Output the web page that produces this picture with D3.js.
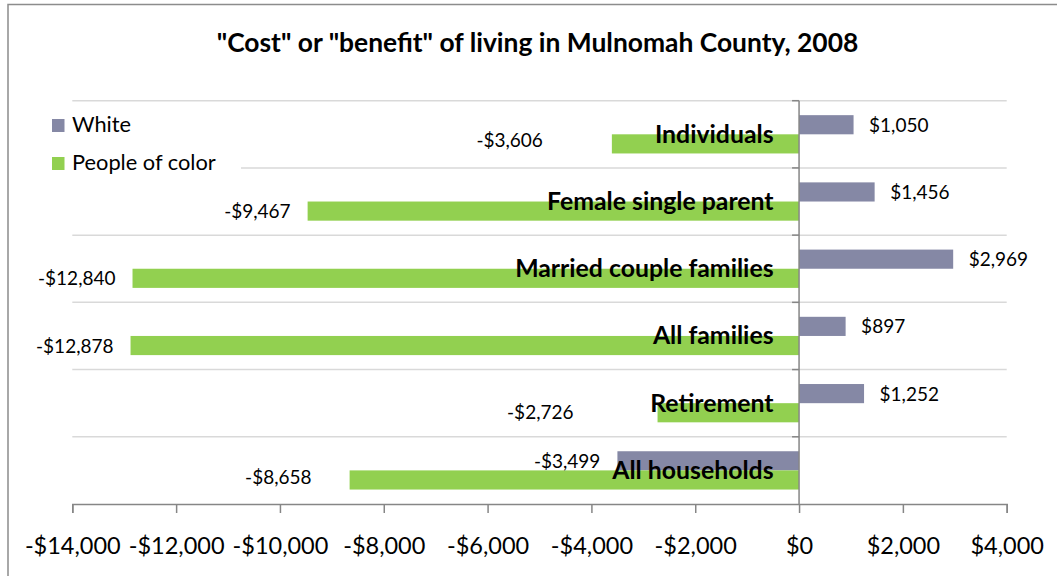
<!DOCTYPE html>
<html>
<head>
<meta charset="utf-8">
<script src="https://cdn.jsdelivr.net/npm/d3@7/dist/d3.min.js"></script>
<style>
  html, body { margin: 0; padding: 0; background: #fff; }
  svg { display: block; font-family: Lato, "Open Sans", sans-serif; }
</style>
</head>
<body>
<svg id="chart" width="1057" height="576"></svg>
<script>
// ---- data ----
const title = '"Cost" or "benefit" of living in Mulnomah County, 2008';
const categories = ["Individuals", "Female single parent", "Married couple families", "All families", "Retirement", "All households"];
const seriesNames = ["White", "People of color"];
const whiteValues = [1050, 1456, 2969, 897, 1252, -3499];
const pocValues = [-3606, -9467, -12840, -12878, -2726, -8658];
const xTicks = [-14000, -12000, -10000, -8000, -6000, -4000, -2000, 0, 2000, 4000];

// ---- styles ----
const colors = { "White": "#8588A5", "People of color": "#92D050" };
const gridColor = "#D9D9D9";
const axisColor = "#868686";

const svg = d3.select("#chart");
svg.append("rect").attr("width", 1057).attr("height", 576).attr("fill", "#fff");
// chart border
svg.append("rect").attr("x", 8).attr("y", 4.5).attr("width", 1060).attr("height", 580)
  .attr("fill", "none").attr("stroke", "#8C8C8C").attr("stroke-width", 1.5);

// title
svg.append("text").attr("x", 537.5).attr("y", 52).attr("text-anchor", "middle")
  .attr("font-weight", "bold").attr("font-size", 26.4).attr("fill", "#000").text(title);

const plot = { left: 72.3, right: 1006.7, top: 100.7, bottom: 504 };
const x = d3.scaleLinear().domain([-14000, 4000]).range([plot.left, plot.right]);
const y = d3.scaleBand().domain(categories).range([plot.top, plot.bottom]).paddingInner(0).paddingOuter(0);
const groupH = y.bandwidth() / 1.755;
const ySub = d3.scaleBand().domain(seriesNames).range([0, groupH]);
const groupOff = (y.bandwidth() - groupH) / 2;

// gridlines at band boundaries
const bounds = categories.map(c => y(c));
svg.append("g").selectAll("line").data(bounds).join("line")
  .attr("x1", plot.left).attr("x2", plot.right)
  .attr("y1", d => d).attr("y2", d => d)
  .attr("stroke", gridColor).attr("stroke-width", 1.5);

// bars
const rows = categories.map((c, i) => ({ cat: c, values: [
  { s: "White", v: whiteValues[i] }, { s: "People of color", v: pocValues[i] } ] }));
const barG = svg.append("g");
rows.forEach(r => {
  r.values.forEach(d => {
    barG.append("rect")
      .attr("x", x(Math.min(0, d.v)))
      .attr("width", Math.abs(x(d.v) - x(0)))
      .attr("y", y(r.cat) + groupOff + ySub(d.s))
      .attr("height", ySub.bandwidth())
      .attr("fill", colors[d.s]);
  });
});

// x axis
const xAxis = d3.axisBottom(x).tickValues(xTicks).tickSize(9).tickPadding(0)
  .tickFormat(d => (d < 0 ? "-$" : "$") + d3.format(",")(Math.abs(d)));
const gx = svg.append("g").attr("transform", `translate(0,${plot.bottom})`).call(xAxis);
gx.select(".domain").attr("stroke", axisColor).attr("stroke-width", 1.5);
gx.selectAll(".tick line").attr("stroke", axisColor).attr("stroke-width", 1.5);
gx.selectAll(".tick text").attr("font-size", 23.5).attr("fill", "#000")
  .attr("font-family", "Lato, sans-serif").attr("dy", 0).attr("y", 50).attr("dominant-baseline", "auto");

// vertical axis at zero
const gy = svg.append("g");
gy.append("line").attr("x1", x(0)).attr("x2", x(0)).attr("y1", plot.top).attr("y2", plot.bottom)
  .attr("stroke", axisColor).attr("stroke-width", 1.5);
gy.selectAll(".ytick").data(bounds).join("line").attr("class", "ytick")
  .attr("x1", x(0) - 7).attr("x2", x(0)).attr("y1", d => d).attr("y2", d => d)
  .attr("stroke", axisColor).attr("stroke-width", 1.5);

// data labels
const fmt = v => (v < 0 ? "-$" : "$") + d3.format(",")(Math.abs(v));
// manual label nudges (dx, dy) as in the original
const nudge = {
  "Individuals|People of color": [-52, -4],
  "Retirement|People of color": [-67, -1],
  "All households|People of color": [-21, -3]
};
const labG = svg.append("g").attr("font-size", 19).attr("fill", "#000");
rows.forEach(r => {
  r.values.forEach(d => {
    const [ndx, ndy] = nudge[r.cat + "|" + d.s] || [0, 0];
    const cy = y(r.cat) + groupOff + ySub(d.s) + ySub.bandwidth() / 2;
    const pos = d.v >= 0;
    labG.append("text")
      .attr("x", (pos ? x(d.v) + 15.5 : x(d.v) - 17) + ndx)
      .attr("y", cy + 7 + ndy)
      .attr("text-anchor", pos ? "start" : "end")
      .text(fmt(d.v));
  });
});

// category labels (next to zero axis, drawn over bars)
svg.append("g").selectAll("text").data(categories).join("text")
  .attr("x", x(0) - 25.5)
  .attr("y", d => y(d) + y.bandwidth() / 2 + 8.5)
  .attr("text-anchor", "end").attr("font-weight", "bold").attr("font-size", 24.8)
  .attr("fill", "#000").text(d => d);

// legend
const lg = svg.append("g");
lg.append("rect").attr("x", 45).attr("y", 104).attr("width", 196).attr("height", 78).attr("fill", "#fff");
seriesNames.forEach((s, i) => {
  lg.append("rect").attr("x", 52).attr("y", 119 + i * 38).attr("width", 12.5).attr("height", 13).attr("fill", colors[s]);
  lg.append("text").attr("x", 72).attr("y", 132 + i * 38).attr("font-size", 21.8).attr("fill", "#000").text(s);
});
</script>
</body>
</html>
